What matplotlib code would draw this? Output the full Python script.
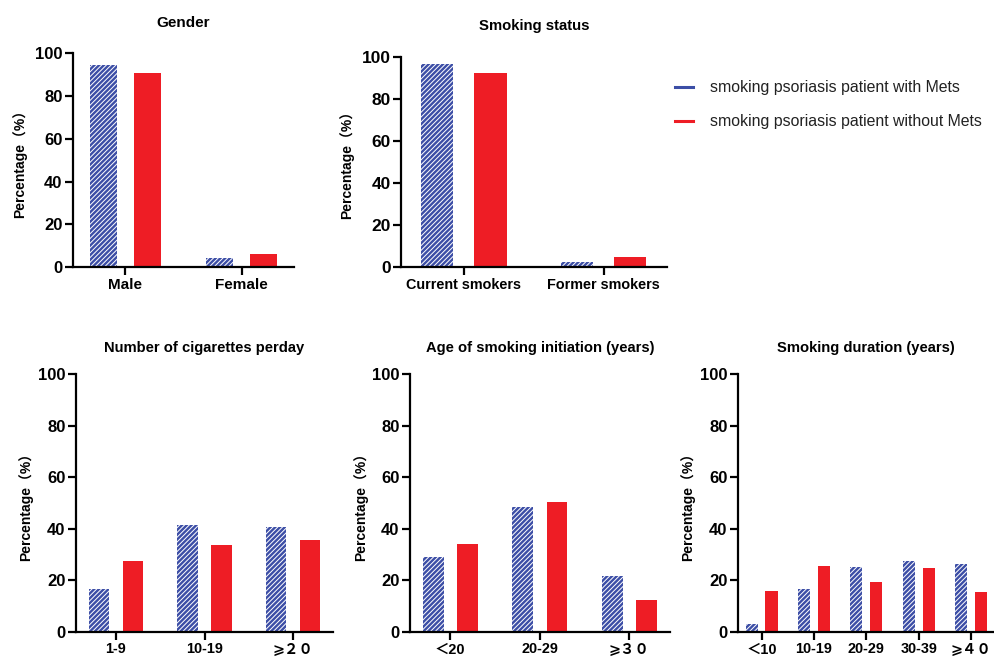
import numpy as np
import matplotlib.pyplot as plt
from matplotlib.lines import Line2D

plt.rcParams['font.family'] = ['Liberation Sans', 'Noto Sans CJK SC', 'DejaVu Sans']
plt.rcParams['hatch.linewidth'] = 0.7

BLUE = '#3c4ea6'
RED = '#ee1d25'

# data (percent)
gender_cats = ['Male', 'Female']
gender_with = [94.5, 4.5]
gender_without = [91.0, 6.2]

status_cats = ['Current smokers', 'Former smokers']
status_with = [96.4, 2.4]
status_without = [92.4, 5.0]

cig_cats = ['1-9', '10-19', '⩾２０']
cig_with = [16.7, 41.6, 40.7]
cig_without = [27.5, 33.8, 35.8]

init_cats = ['＜20', '20-29', '⩾３０']
init_with = [29.1, 48.3, 21.6]
init_without = [34.2, 50.4, 12.4]

dur_cats = ['＜10', '10-19', '20-29', '30-39', '⩾４０']
dur_with = [3.2, 16.7, 25.1, 27.5, 26.5]
dur_without = [15.8, 25.6, 19.3, 24.7, 15.4]

legend_labels = ['smoking psoriasis patient with Mets',
                 'smoking psoriasis patient without Mets']

fig = plt.figure(figsize=(9.95, 6.58), dpi=100)


def draw_panel(rect, title, cats, with_vals, without_vals, sizes, title_pad, ylab_x):
    # sizes: (title, xticks, yticks, ylabel)
    ax = fig.add_axes(rect)
    x = np.arange(len(cats))
    w = 0.23
    ax.bar(x - 0.19, with_vals, w, facecolor=BLUE, edgecolor='white',
           linewidth=0, hatch='///////')
    ax.bar(x + 0.19, without_vals, w, color=RED, linewidth=0)
    ax.set_xlim(-0.45, len(cats) - 1 + 0.45)
    ax.set_ylim(0, 100)
    ax.set_yticks([0, 20, 40, 60, 80, 100])
    ax.set_xticks(x)
    ax.set_xticklabels(cats, fontsize=sizes[1], fontweight='bold')
    for lab in ax.get_yticklabels():
        lab.set_fontsize(sizes[2])
        lab.set_fontweight('bold')
    ax.spines['top'].set_visible(False)
    ax.spines['right'].set_visible(False)
    ax.spines['left'].set_linewidth(1.6)
    ax.spines['bottom'].set_linewidth(1.6)
    ax.tick_params(axis='both', length=5.5, width=1.6, pad=2)
    ax.set_title(title, fontsize=sizes[0], fontweight='bold', pad=title_pad)
    ax.set_ylabel('Percentage（%）', fontsize=sizes[3], fontweight='bold')
    ax.yaxis.set_label_coords(ylab_x, 0.5)
    return ax


draw_panel([0.0734, 0.594, 0.222, 0.325], 'Gender', gender_cats,
           gender_with, gender_without, (11, 11, 12, 10), 19, -0.21)
draw_panel([0.403, 0.594, 0.267, 0.320], 'Smoking status', status_cats,
           status_with, status_without, (10.7, 10.4, 12.5, 10), 19, -0.177)
draw_panel([0.0764, 0.0395, 0.2583, 0.392], 'Number of cigarettes perday', cig_cats,
           cig_with, cig_without, (10.6, 10.4, 12, 10), 16, -0.167)
draw_panel([0.412, 0.0395, 0.261, 0.392], 'Age of smoking initiation (years)', init_cats,
           init_with, init_without, (10.6, 10.4, 12, 10), 16, -0.16)
draw_panel([0.7417, 0.0395, 0.258, 0.392], 'Smoking duration (years)', dur_cats,
           dur_with, dur_without, (10.6, 10.4, 12, 10), 16, -0.167)

handles = [Line2D([0], [0], color=BLUE, lw=2.2), Line2D([0], [0], color=RED, lw=2.2)]
fig.legend(handles, legend_labels, loc='upper left', bbox_to_anchor=(0.678, 0.878),
           frameon=False, borderpad=0, borderaxespad=0, handlelength=1.14,
           handletextpad=1.07, labelspacing=1.2, labelcolor='#222222', fontsize=11.4)

fig.savefig('out.png', dpi=100)
